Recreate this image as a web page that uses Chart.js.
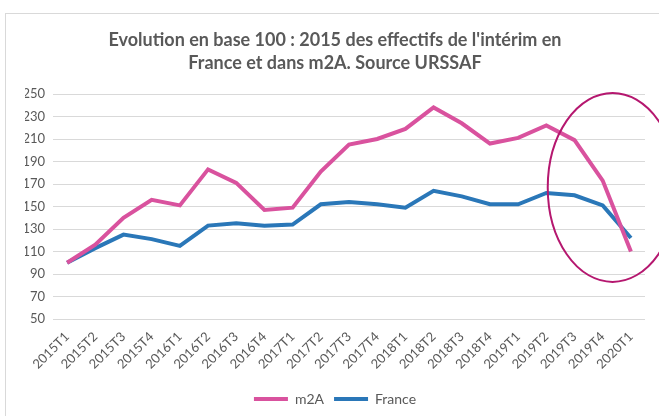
<!DOCTYPE html>
<html>
	<head>
		<title>Evolution en base 100 - intérim</title>
		<meta http-equiv="Content-Type" content="text/html; charset=UTF-8" />
		<script src="https://cdn.jsdelivr.net/npm/chart.js@4.4.0/dist/chart.umd.min.js"></script>
		<style>
			html, body { margin: 0; padding: 0; background: #fff; overflow: hidden; }
			#frame { position: absolute; left: 5px; top: 13px; width: 700px; height: 420px; border-left: 1px solid #d9d9d9; border-top: 1px solid #d9d9d9; }
			#wrap { position: absolute; left: 0; top: 0; width: 659px; height: 416px; }
		</style>
	</head>
	<body>
		<div id="frame"></div>
		<div id="wrap"><canvas id="myChart" width="659" height="416"></canvas></div>

		<script>
			// quarters on the x axis
			var periods = ['2015T1', '2015T2', '2015T3', '2015T4', '2016T1', '2016T2', '2016T3', '2016T4',
				'2017T1', '2017T2', '2017T3', '2017T4', '2018T1', '2018T2', '2018T3', '2018T4',
				'2019T1', '2019T2', '2019T3', '2019T4', '2020T1'];

			// base 100 = 2015
			var m2aValues = [100, 116, 140, 156, 151, 183, 171, 147, 149, 181, 205, 210, 219, 238, 224, 206, 211, 222, 209, 173, 110];
			var franceValues = [100, 113, 125, 121, 115, 133, 135, 133, 134, 152, 154, 152, 149, 164, 159, 152, 152, 162, 160, 151, 122];

			// y axis ticks
			var yMin = 50;
			var yMax = 250;
			var yStep = 20;

			var titleLines = ["Evolution en base 100 : 2015 des effectifs de l'intérim en", "France et dans m2A. Source URSSAF"];

			var greyText = '#595959';
			var fontName = 'Lato, "Open Sans", sans-serif';

			// the red ellipse around the last quarters (centre in axis units)
			var ellipseNote = { x: 19.35, y: 167, rx: 2.3, ry: 84 };

			var ellipsePlugin = {
				id: 'ellipseNote',
				afterDatasetsDraw: function(chart) {
					var xs = chart.scales.x, ys = chart.scales.y;
					var cx = xs.getPixelForValue(ellipseNote.x);
					var cy = ys.getPixelForValue(ellipseNote.y);
					var rx = Math.abs(xs.getPixelForValue(ellipseNote.x + ellipseNote.rx) - cx);
					var ry = Math.abs(ys.getPixelForValue(ellipseNote.y + ellipseNote.ry) - cy);
					var ctx = chart.ctx;
					ctx.save();
					ctx.beginPath();
					ctx.ellipse(cx, cy, rx, ry, 0, 0, Math.PI * 2);
					ctx.strokeStyle = '#b5176f';
					ctx.lineWidth = 2;
					ctx.stroke();
					ctx.restore();
				}
			};

			var ctx = document.getElementById('myChart').getContext('2d');
			var chart = new Chart(ctx, {
				type: 'line',
				data: {
					labels: periods,
					datasets: [{
						label: 'm2A',
						data: m2aValues,
						borderColor: '#d9529e',
						backgroundColor: '#d9529e',
						borderWidth: 4,
						pointRadius: 0,
						tension: 0
					}, {
						label: 'France',
						data: franceValues,
						borderColor: '#2a77b8',
						backgroundColor: '#2a77b8',
						borderWidth: 4,
						pointRadius: 0,
						tension: 0
					}]
				},
				plugins: [ellipsePlugin],
				options: {
					responsive: false,
					animation: false,
					layout: { padding: { left: 25, right: 14, top: 0, bottom: 0 } },
					plugins: {
						title: {
							display: true,
							text: titleLines,
							color: greyText,
							font: { family: fontName, size: 18, weight: 'bold', lineHeight: 1.278 },
							padding: { top: 28.5, bottom: 19.5 }
						},
						legend: {
							position: 'bottom',
							labels: {
								color: greyText,
								font: { family: fontName, size: 14 },
								usePointStyle: true,
								pointStyle: 'line',
								pointStyleWidth: 34,
								boxHeight: 12,
								padding: 10
							}
						},
						tooltip: { enabled: false }
					},
					scales: {
						x: {
							offset: true,
							grid: { display: false },
							border: { display: false },
							ticks: {
								color: greyText,
								font: { family: fontName, size: 13 },
								minRotation: 45,
								maxRotation: 45,
								padding: 2
							},
							afterFit: function(axis) { axis.height = 63; }
						},
						y: {
							min: yMin,
							max: yMax,
							grid: { color: '#d9d9d9', drawTicks: false },
							border: { display: false },
							ticks: {
								stepSize: yStep,
								color: greyText,
								font: { family: fontName, size: 13 },
								padding: 8
							},
							afterFit: function(axis) { axis.width = 28; }
						}
					}
				}
			});
		</script>
	</body>
</html>
